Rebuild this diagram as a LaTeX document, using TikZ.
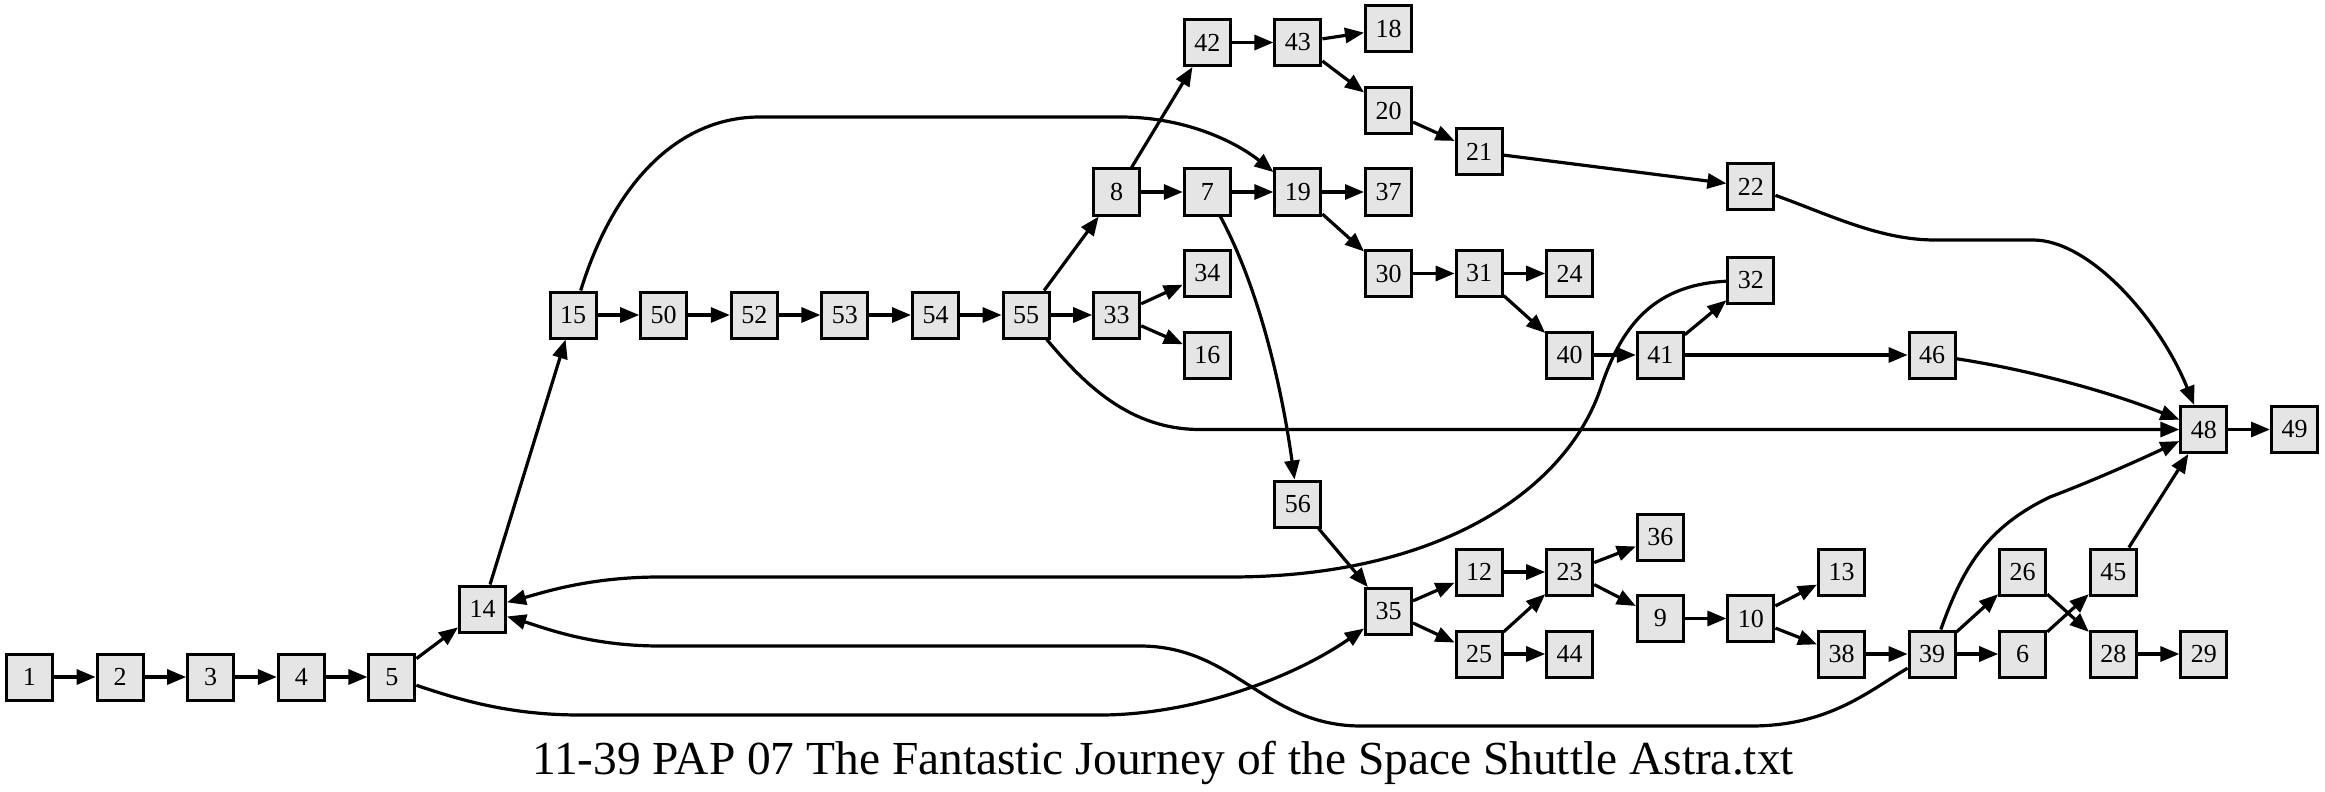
\documentclass[tikz,border=0pt]{standalone}
\usepackage{fontspec}
\setmainfont{Liberation Serif}
\usetikzlibrary{arrows.meta, positioning}

\definecolor{boxgray}{HTML}{E5E5E5}

\begin{document}
\begin{tikzpicture}[
    x=0.5pt, y=-0.5pt,
    node distance=45.3pt,
    on grid,
    passage/.style={
        rectangle,
        draw=black,
        fill=boxgray,
        line width=1.5pt,
        minimum width=23pt,
        minimum height=23pt,
        inner sep=0pt,
        font=\fontsize{13pt}{15pt}\selectfont
    },
    link/.style={
        -{Triangle[length=9.5pt, width=7.5pt]},
        line width=1.6pt,
        black
    },
    caption/.style={
        anchor=base,
        font=\fontsize{23.7pt}{28pt}\selectfont
    }
]
\useasboundingbox (0,0) rectangle (2325,792);

% Opening chain
\node[passage] at (29.5,677) (s1) {1};
\node[passage, right=of s1] (s2) {2};
\node[passage, right=of s2] (s3) {3};
\node[passage, right=of s3] (s4) {4};
\node[passage, right=of s4] (s5) {5};
\node[passage] at (482.5,609) (s14) {14};

% Middle row
\node[passage] at (573.1,315) (s15) {15};
\node[passage, right=of s15] (s50) {50};
\node[passage, right=of s50] (s52) {52};
\node[passage, right=of s52] (s53) {53};
\node[passage, right=of s53] (s54) {54};
\node[passage, right=of s54] (s55) {55};
\node[passage, right=of s55] (s33) {33};
\node[passage] at (1207.3,273.5) (s34) {34};
\node[passage] at (1207.3,355) (s16) {16};

% Upper branch
\node[passage] at (1116.7,192) (s8) {8};
\node[passage, right=of s8] (s7) {7};
\node[passage, right=of s7] (s19) {19};
\node[passage, right=of s19] (s37) {37};
\node[passage] at (1207.3,42.5) (s42) {42};
\node[passage, right=of s42] (s43) {43};
\node[passage] at (1388.5,29) (s18) {18};
\node[passage] at (1388.5,111) (s20) {20};
\node[passage] at (1479.1,152) (s21) {21};
\node[passage] at (1750.9,186.5) (s22) {22};
\node[passage] at (1388.5,273.5) (s30) {30};
\node[passage, right=of s30] (s31) {31};
\node[passage, right=of s31] (s24) {24};
\node[passage] at (1750.9,280) (s32) {32};
\node[passage] at (1569.7,355) (s40) {40};
\node[passage, right=of s40] (s41) {41};
\node[passage] at (1932.1,355) (s46) {46};

% Ending
\node[passage] at (2203.9,429.5) (s48) {48};
\node[passage, right=of s48] (s49) {49};

% Lower branch
\node[passage] at (1297.9,504) (s56) {56};
\node[passage] at (1388.5,611.5) (s35) {35};
\node[passage] at (1479.1,572) (s12) {12};
\node[passage, right=of s12] (s23) {23};
\node[passage] at (1660.3,537) (s36) {36};
\node[passage] at (1479.1,654) (s25) {25};
\node[passage, right=of s25] (s44) {44};
\node[passage] at (1660.3,618.5) (s9) {9};
\node[passage, right=of s9] (s10) {10};
\node[passage] at (1841.5,572) (s13) {13};
\node[passage] at (1841.5,654) (s38) {38};
\node[passage, right=of s38] (s39) {39};
\node[passage, right=of s39] (s6) {6};
\node[passage, right=of s6] (s28) {28};
\node[passage, right=of s28] (s29) {29};
\node[passage] at (2022.7,572) (s26) {26};
\node[passage, right=of s26] (s45) {45};

% Title
\node[caption] at (1163,774) (title) {11-39 PAP 07 The Fantastic Journey of the Space Shuttle Astra.txt};

% Straight links
\draw[link] (s1) -- (s2);
\draw[link] (s2) -- (s3);
\draw[link] (s3) -- (s4);
\draw[link] (s4) -- (s5);
\draw[link] (s5) -- (s14);
\draw[link] (s14) -- (s15);
\draw[link] (s15) -- (s50);
\draw[link] (s50) -- (s52);
\draw[link] (s52) -- (s53);
\draw[link] (s53) -- (s54);
\draw[link] (s54) -- (s55);
\draw[link] (s55) -- (s8);
\draw[link] (s55) -- (s33);
\draw[link] (s33) -- (s34);
\draw[link] (s33) -- (s16);
\draw[link] (s8) -- (s42);
\draw[link] (s8) -- (s7);
\draw[link] (s7) -- (s19);
\draw[link] (s42) -- (s43);
\draw[link] (s43) -- (s18);
\draw[link] (s43) -- (s20);
\draw[link] (s20) -- (s21);
\draw[link] (s21) -- (s22);
\draw[link] (s19) -- (s37);
\draw[link] (s19) -- (s30);
\draw[link] (s30) -- (s31);
\draw[link] (s31) -- (s24);
\draw[link] (s31) -- (s40);
\draw[link] (s40) -- (s41);
\draw[link] (s41) -- (s32);
\draw[link] (s41) -- (s46);
\draw[link] (s48) -- (s49);
\draw[link] (s56) -- (s35);
\draw[link] (s35) -- (s12);
\draw[link] (s35) -- (s25);
\draw[link] (s12) -- (s23);
\draw[link] (s25) -- (s23);
\draw[link] (s25) -- (s44);
\draw[link] (s23) -- (s36);
\draw[link] (s23) -- (s9);
\draw[link] (s9) -- (s10);
\draw[link] (s10) -- (s13);
\draw[link] (s10) -- (s38);
\draw[link] (s38) -- (s39);
\draw[link] (s39) -- (s26);
\draw[link] (s39) -- (s6);
\draw[link] (s26) -- (s28);
\draw[link] (s6) -- (s45);
\draw[link] (s45) -- (s48);
\draw[link] (s28) -- (s29);

% Curved links
\draw[link] (s15) .. controls (615,180) and (680,117) .. (760,117) -- (1120,117)
    .. controls (1190,117) and (1240,145) .. (s19);
\draw[link] (s55) .. controls (1085,385) and (1130,429.5) .. (1200,429.5) -- (s48);
\draw[link] (s7) .. controls (1265,300) and (1285,410) .. (s56);
\draw[link] (s22) .. controls (1830,215) and (1880,240) .. (1935,240) -- (2033,240)
    .. controls (2090,240) and (2160,320) .. (s48);
\draw[link] (s46) .. controls (2030,370) and (2110,392) .. (s48);
\draw[link] (s39) .. controls (1962,570) and (1985,528) .. (2050,497)
    .. controls (2100,478) and (2150,455) .. (s48);
\draw[link] (s32) .. controls (1650,285) and (1620,330) .. (1600,390)
    .. controls (1565,490) and (1440,577) .. (1230,577) -- (660,577)
    .. controls (590,577) and (545,592) .. (s14);
\draw[link] (s39) .. controls (1870,690) and (1830,726) .. (1751,726) -- (1361,726)
    .. controls (1265,726) and (1235,646) .. (1140,646) -- (660,646)
    .. controls (590,646) and (545,628) .. (s14);
\draw[link] (s5) .. controls (460,700) and (510,715) .. (580,715) -- (1100,715)
    .. controls (1190,715) and (1290,680) .. (s35);

\end{tikzpicture}
\end{document}
